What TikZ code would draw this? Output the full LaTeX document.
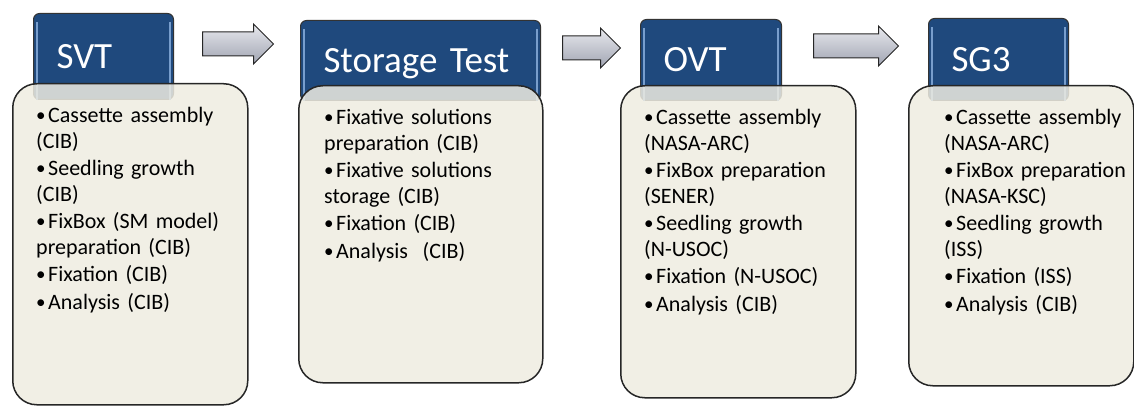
\documentclass[tikz,border=0pt]{standalone}
\usepackage{fontspec}
\setmainfont{Carlito}
\usetikzlibrary{shapes.arrows}

\definecolor{headblue}{RGB}{31,73,125}
\definecolor{bevelblue}{RGB}{120,158,205}
\definecolor{bodytan}{RGB}{238,236,225}
\definecolor{arrowlight}{RGB}{232,233,238}
\definecolor{arrowdark}{RGB}{160,164,178}

% bullet with hanging indent
\newcommand{\pitem}[1]{\par\hangindent=12pt\hangafter=1\noindent
	\makebox[12pt][l]{\fontsize{19}{19}\selectfont\raisebox{1pt}{\textbullet}}#1}

\tikzset{
	title/.style={draw=black!80, line width=1pt, fill=headblue, rounded corners=6pt,
		anchor=north west, inner xsep=23pt, align=left, text=white,
		font=\fontsize{37}{40}\selectfont, text height=24pt, text depth=0pt},
	bevel/.style={bevelblue, line width=1.6pt},
	panel/.style={draw=black!85, line width=1.5pt, fill=bodytan, fill opacity=0.85,
		rounded corners=24pt, anchor=north west, inner sep=0pt},
	items/.style={anchor=north west, inner sep=0pt, text width=#1, align=left,
		font=\fontsize{22}{25.5}\selectfont, execute at begin node={\setlength{\parskip}{2pt}}},
	blockarrow/.style={single arrow, draw=black!85, line width=1pt, top color=arrowlight,
		bottom color=arrowdark, minimum height=#1, inner xsep=0pt, inner ysep=11.5pt,
		single arrow head extend=8pt, anchor=tail}
}

\begin{document}
\begin{tikzpicture}[x=1pt,y=-1pt]
	\useasboundingbox (0,0) rectangle (1134,406);
	
	% headers
	\node[title, text width=94pt, minimum height=86pt] (svt) at (33,13) {SVT};
	\node[title, text width=194pt, minimum height=80pt] (store) at (300,20) {Storage Test};
	\node[title, text width=95pt, minimum height=81pt] (ovt) at (640,19) {OVT};
	\node[title, text width=94pt, minimum height=82pt] (sgthree) at (928,18) {SG3};
	
	\foreach \h in {svt,store,ovt,sgthree}{
		\draw[bevel] ([xshift=4pt,yshift=-9pt]\h.north west) -- ([xshift=4pt]\h.south west);
		\draw[bevel] ([xshift=-4pt,yshift=-9pt]\h.north east) -- ([xshift=-4pt]\h.south east);
	}
	
	% panels
	\node[panel, minimum width=235pt, minimum height=321pt] (svtbox) at (12,83) {};
	\node[panel, minimum width=244pt, minimum height=297pt] (storebox) at (298,85) {};
	\node[panel, minimum width=235pt, minimum height=312pt] (ovtbox) at (620,85) {};
	\node[panel, minimum width=225pt, minimum height=300pt] (sgthreebox) at (908,85) {};
	
	% lists
	\node[items=205pt] (svtlist) at (36,95) {
		\pitem{Cassette assembly\\(CIB)}
		\pitem{Seedling growth\\(CIB)}
		\pitem{FixBox (SM model)\\preparation (CIB)}
		\pitem{Fixation (CIB)}
		\pitem{Analysis (CIB)}};
	\node[items=205pt] (storelist) at (324,97) {
		\pitem{Fixative solutions\\preparation (CIB)}
		\pitem{Fixative solutions\\storage (CIB)}
		\pitem{Fixation (CIB)}
		\pitem{Analysis~ (CIB)}};
	\node[items=205pt] (ovtlist) at (644,97) {
		\pitem{Cassette assembly\\(NASA-ARC)}
		\pitem{FixBox preparation\\(SENER)}
		\pitem{Seedling growth\\(N-USOC)}
		\pitem{Fixation (N-USOC)}
		\pitem{Analysis (CIB)}};
	\node[items=185pt] (sgthreelist) at (944,97) {
		\pitem{Cassette assembly\\(NASA-ARC)}
		\pitem{FixBox preparation\\(NASA-KSC)}
		\pitem{Seedling growth\\(ISS)}
		\pitem{Fixation (ISS)}
		\pitem{Analysis (CIB)}};
	
	% arrows between stages
	\node[blockarrow=71pt] (arrA) at (202,44) {};
	\node[blockarrow=58pt] (arrB) at (562,48) {};
	\node[blockarrow=85pt] (arrC) at (813,46) {};
\end{tikzpicture}
\end{document}
